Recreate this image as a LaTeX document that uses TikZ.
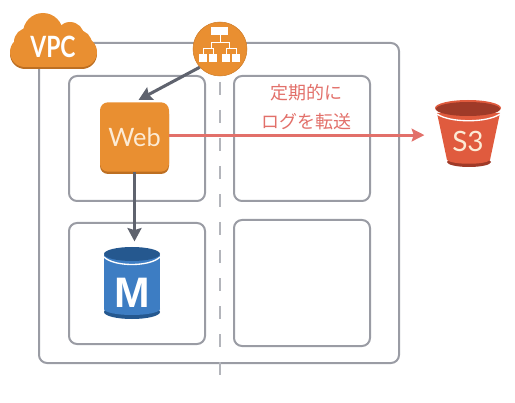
\documentclass[tikz,border=0pt]{standalone}
\usepackage{fontspec}
\setmainfont{Lato}
\newfontfamily\jpfont{Noto Sans CJK JP}
\newfontfamily\boldfont{Liberation Sans}
\usetikzlibrary{positioning, calc, arrows.meta}
\definecolor{awsorange}{HTML}{E98F31}
\definecolor{awsorangedark}{HTML}{BD6F22}
\definecolor{awsblue}{HTML}{3D7DC3}
\definecolor{awsbluedark}{HTML}{25588F}
\definecolor{awsred}{HTML}{E05B3E}
\definecolor{awsreddark}{HTML}{9F3A28}
\definecolor{linegray}{HTML}{9A9CA4}
\definecolor{arrowgray}{HTML}{5F636E}
\definecolor{logred}{HTML}{E2706A}
\definecolor{webtext}{HTML}{FCEBD5}
\tikzset{
    groupbox/.style={draw=linegray, line width=1.5pt, rounded corners=6pt},
    mainarrow/.style={draw=arrowgray, line width=2.3pt, -{Stealth[length=10pt, width=10.5pt, inset=1.5pt]}},
    logarrow/.style={draw=logred, line width=2.2pt, -{Stealth[length=9.5pt, width=9.5pt, inset=1.5pt]}}
}
\begin{document}
\begin{tikzpicture}[x=0.75pt, y=-0.75pt]
    \useasboundingbox (0,0) rectangle (515,403);

    % VPC frame and the four subnets
    \draw[groupbox] (39,43) rectangle (399,363);
    \draw[groupbox] (69,76) rectangle (205,201);
    \draw[groupbox] (234,76) rectangle (370,201);
    \draw[groupbox] (69,223) rectangle (205,344);
    \draw[groupbox] (234,220) rectangle (370,346);

    % Dashed line between the two columns
    \draw[draw=linegray!75, line width=1.7pt, dash pattern=on 9.75pt off 11.25pt] (220,82) -- (220,386);

    % VPC cloud, dark copy first for the lower edge
    \foreach \cx/\cy/\cr in {25/54/15, 28/44/14, 43/34/20, 70/37/14, 78/46/14, 82/54/15} {
        \fill[awsorangedark] (\cx,\cy) circle (\cr);
    }
    \fill[awsorangedark] (25,50) rectangle (82,69);
    \foreach \cx/\cy/\cr in {25/52/15, 28/42/14, 43/33/20, 70/36/14, 78/44/14, 82/52/15} {
        \fill[awsorange] (\cx,\cy) circle (\cr);
    }
    \fill[awsorange] (25,38) rectangle (82,67);
    \node[text=white, font=\bfseries\fontsize{22}{22}\selectfont, xscale=0.78] (vpc) at (53,47) {VPC};

    % Load balancer with its tree of boxes
    \node[circle, fill=awsorange, draw=awsorangedark!60!awsorange, minimum size=40.5pt, inner sep=0pt] (hub) at (220,49) {};
    \fill[white] (211,27) rectangle (228,35);
    \foreach \bx in {199,209,222,232} {
        \fill[white] (\bx,54) rectangle +(8,8);
    }
    \draw[white, line width=0.7pt] (220,35) -- (220,42) (211,48) -- (211,42) -- (229,42) -- (229,48)
        (203,54) -- (203,48) -- (213,48) -- (213,54) (226,54) -- (226,48) -- (236,48) -- (236,54);

    % Web server
    \fill[awsorangedark, rounded corners=6pt] (100,106) rectangle (169,174);
    \node[fill=awsorange, rounded corners=6pt, minimum width=51.75pt, minimum height=52pt, inner sep=0pt,
          text=webtext, font=\fontsize{19}{19}\selectfont] (web) at (134.5,137) {Web};

    % Database cylinder
    \fill[awsbluedark] (132,312) ellipse [x radius=28, y radius=7];
    \fill[awsblue] (104,255) rectangle (160,309);
    \fill[awsblue] (132,309) ellipse [x radius=28, y radius=6];
    \draw[white, line width=1pt] (104,257) .. controls (114,267) and (150,267) .. (160,257);
    \fill[awsbluedark] (132,254) ellipse [x radius=28, y radius=7];
    \node[minimum width=42pt, minimum height=54pt, inner sep=0pt, text=white, text height=36pt, text depth=0pt,
          font=\boldfont\bfseries\fontsize{32}{32}\selectfont] (db) at (132,283) {M};

    % S3 bucket
    \fill[awsreddark] (469,162) ellipse [x radius=22, y radius=5];
    \fill[awsred] (437,113) -- (447,160) .. controls (452,165) and (486,165) .. (490,160) -- (500,113) -- cycle;
    \draw[white, line width=1pt] (437,114) .. controls (450,123) and (487,123) .. (500,114);
    \fill[awsred] (468,108) ellipse [x radius=33, y radius=8];
    \fill[awsreddark] (468,109) ellipse [x radius=32, y radius=7];
    \node[minimum width=50pt, minimum height=39pt, inner sep=0pt, text=webtext,
          font=\fontsize{21}{21}\selectfont] (s3) at (468,141) {S3};

    % Connections
    \draw[mainarrow, shorten >=3.5pt] (hub.222) -- (web.north);
    \draw[mainarrow, shorten >=4pt] (web.south) -- (web.south |- db.north);
    \draw[logarrow, shorten >=7.5pt] (web.east |- s3.170) -- (s3.170);

    % Label above the red arrow
    \node[text=logred, align=center, font=\jpfont\fontsize{13.5}{21.75}\selectfont] (loglabel) at (306,107.5) {定期的に\\ログを転送};

\end{tikzpicture}
\end{document}
